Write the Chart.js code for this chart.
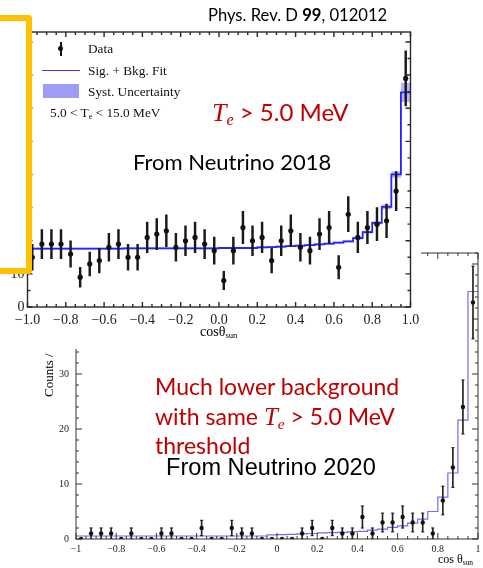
<!DOCTYPE html>
<html>
<head>
<meta charset="utf-8">
<script src="https://cdn.jsdelivr.net/npm/chart.js@4.4.1/dist/chart.umd.min.js"></script>
<style>
  html, body { margin: 0; padding: 0; background: #fff; }
  #page { position: relative; width: 483px; height: 568px; overflow: hidden; }
  canvas { position: absolute; left: 0; top: 0; }
  .t { position: absolute; white-space: nowrap; line-height: 1; }
  .calibri { font-family: Lato, "Open Sans", sans-serif; }
  .serif { font-family: "Liberation Serif", "DejaVu Serif", serif; }
  .red { color: #c00000; }
  .math { font-family: "Liberation Serif", serif; font-style: italic; }
  sub { font-size: 62%; vertical-align: -0.25em; line-height: 0; }
  .lg { font-size: 13.3px; color: #111; }
</style>
</head>
<body>
<div id="page">
  <canvas id="c2020" width="483" height="568" style="z-index:1"></canvas>

  <div class="t calibri red" style="left:155px; top:372px; font-size:23px; line-height:29.5px; z-index:2">
    Much lower background<br>with same <span class="math" style="font-size:25px">T<sub>e</sub></span> &gt; 5.0 MeV<br>threshold
  </div>
  <div class="t" style="left:166px; top:456px; font-size:23.6px; font-family:'Liberation Sans', Arial, sans-serif; z-index:2">From Neutrino 2020</div>
  <div class="t serif" style="left:42px; top:397px; font-size:13px; transform-origin:0 0; transform:rotate(-90deg); z-index:2">Counts /</div>
  <div class="t serif" style="left:438px; top:553px; font-size:12px; z-index:2">cos θ<sub>sun</sub></div>

  <canvas id="c2018" width="421" height="349" style="z-index:3"></canvas>

  <div class="t calibri" style="left:208px; top:7px; font-size:16.6px; z-index:4">Phys. Rev. D <b>99</b>, 012012</div>
  <div class="t calibri red" style="left:212px; top:100px; font-size:24px; z-index:4"><span class="math" style="font-size:26px">T<sub>e</sub></span> &gt; 5.0 MeV</div>
  <div class="t calibri" style="left:133px; top:151px; font-size:22px; z-index:4">From Neutrino 2018</div>
  <div class="t serif" style="left:200px; top:325px; font-size:14px; z-index:4">cosθ<sub>sun</sub></div>

  <!-- legend of the 2018 plot -->
  <div style="position:absolute; left:60px; top:42px; width:1.6px; height:14px; background:#111; z-index:4"></div>
  <div style="position:absolute; left:58.3px; top:46.3px; width:5px; height:5px; border-radius:50%; background:#111; z-index:4"></div>
  <div style="position:absolute; left:42px; top:69.5px; width:38px; height:1.5px; background:#3b3bff; z-index:4"></div>
  <div style="position:absolute; left:43px; top:84px; width:36px; height:14px; background:#9d9df7; z-index:4"></div>
  <div class="t serif lg" style="left:88px; top:41.5px; z-index:4">Data</div>
  <div class="t serif lg" style="left:88px; top:63.5px; z-index:4">Sig. + Bkg. Fit</div>
  <div class="t serif lg" style="left:88px; top:84.5px; z-index:4">Syst. Uncertainty</div>
  <div class="t serif lg" style="left:50px; top:106px; z-index:4">5.0 &lt; T<sub>e</sub> &lt; 15.0 MeV</div>

  <!-- yellow bracket -->
  <div style="position:absolute; left:-10px; top:15px; width:36px; height:247px; border:6px solid #ffc000; border-left:none; border-radius:0 4px 4px 0; z-index:5"></div>
</div>

<script>
// 40 bins of 0.05 in cos(theta_sun), from -1 to 1
var binEdges = []
for (var i = 0; i <= 40; i++) binEdges.push(Math.round((-1 + i * 0.05) * 1000) / 1000)
var binCenters = binEdges.slice(0, 40).map(function(e){ return Math.round((e + 0.025) * 1000) / 1000 })

// Neutrino 2018 (Phys. Rev. D 99, 012012)
var counts2018 = [15,19,19,19,16,9,13,14,18,19,15,15,21,22,23,18,20,21,19,17,8,17,24,20,21,14,20,23,18,17,22,24,12,28,21,24,25,26,35,69]
var err2018 = [3.9,4.4,4.4,4.4,4,3,3.6,3.7,4.2,4.4,3.9,3.9,4.6,4.7,4.8,4.2,4.5,4.6,4.4,4.1,2.8,4.1,4.9,4.5,4.6,3.7,4.5,4.8,4.2,4.1,4.7,4.9,3.5,5.3,4.6,4.9,5,5.1,5.9,8.3]
var fit2018 = [17.6,17.6,17.6,17.6,17.6,17.6,17.6,17.6,17.6,17.6,17.7,17.7,17.7,17.7,17.7,17.7,17.7,17.7,17.7,17.7,17.8,17.8,17.8,17.8,18.0,18.1,18.2,18.4,18.5,18.7,18.9,19.1,19.4,19.8,20.8,22.6,25.4,30.2,40.0,64.8]
var syst2018 = [0.3,0.3,0.3,0.3,0.3,0.3,0.3,0.3,0.3,0.3,0.3,0.3,0.3,0.3,0.3,0.3,0.3,0.3,0.3,0.3,0.3,0.3,0.3,0.3,0.3,0.3,0.3,0.3,0.3,0.3,0.3,0.3,0.3,0.3,0.4,0.4,0.5,0.7,1.0,2.9]
var xTicks2018 = [-1,-0.8,-0.6,-0.4,-0.2,0,0.2,0.4,0.6,0.8,1]
var xLabels2018 = ['\u22121.0','\u22120.8','\u22120.6','\u22120.4','\u22120.2','0.0','0.2','0.4','0.6','0.8','1.0']
var yTicks2018 = [0,10]
var yLabels2018 = ['0','10']

// Neutrino 2020
var counts2020 = [0,1,1,1,0,1,0,0,1,1,0,0,2,0,0,2,1,1,0,0,0,0,1,2,0,2,1,1,4,1,3,3,4,3,3,1,7,13,24,43]
var err2020 = [0,1,1,1,0,1,0,0,1,1,0,0,1.4,0,0,1.4,1,1,0,0,0,0,1,1.4,0,1.4,1,1,2,1,1.7,1.7,2,1.7,1.7,1,2.6,3.6,4.9,6.6]
var fit2020 = [0.55,0.55,0.55,0.55,0.55,0.55,0.55,0.55,0.55,0.55,0.55,0.55,0.55,0.55,0.55,0.55,0.55,0.55,0.55,0.75,0.8,0.85,0.95,1.0,1.1,1.15,1.2,1.3,1.4,1.6,1.8,2.1,2.4,2.9,3.6,5.0,7.6,12.0,21.6,45.0]
var xTicks2020 = [-1,-0.8,-0.6,-0.4,-0.2,0,0.2,0.4,0.6,0.8,1]
var xLabels2020 = ['\u22121','\u22120.8','\u22120.6','\u22120.4','\u22120.2','0','0.2','0.4','0.6','0.8','1']
var yTicks2020 = [0,10,20,30,40,50]
var yLabels2020 = ['0','10','20','30','40','50']

Chart.defaults.font.family = '"Liberation Serif", "DejaVu Serif", serif'
Chart.defaults.color = '#222'

function stepData(vals){
  // value of bin i is held from its left edge to the next one
  return binEdges.map(function(e, i){ return { x: e, y: vals[Math.min(i, vals.length - 1)] } })
}
function errBars(vals, errs){
  var out = []
  vals.forEach(function(v, i){ if (errs[i] > 0) out.push({ x: binCenters[i], y: [v - errs[i], v + errs[i]] }) })
  return out
}
function errCaps(vals, errs){
  var out = []
  vals.forEach(function(v, i){
    if (errs[i] > 0) {
      out.push({ x: binCenters[i], y: v - errs[i] })
      out.push({ x: binCenters[i], y: v + errs[i] })
    }
  })
  return out
}
function points(vals){
  return vals.map(function(v, i){ return { x: binCenters[i], y: v } })
}
function fixedAxis(size, horizontal){
  return function(s){
    if (horizontal) s.height = size; else s.width = size
    s.paddingLeft = 0; s.paddingRight = 0; s.paddingTop = 0; s.paddingBottom = 0
  }
}
function setTicks(values){
  return function(s){ s.ticks = values.map(function(v){ return { value: v } }) }
}

// closed frame with inward ROOT-style ticks on all four sides
var frameTicks = {
  id: 'frameTicks',
  afterDraw: function(chart, args, o){
    var ctx = chart.ctx, a = chart.chartArea, xs = chart.scales.x, ys = chart.scales.y
    ctx.save()
    ctx.strokeStyle = o.color
    ctx.lineWidth = o.width
    ctx.strokeRect(a.left, a.top, a.right - a.left, a.bottom - a.top)
    ctx.beginPath()
    var nx = Math.round((xs.max - xs.min) / o.xMinor), kx = Math.round(o.xMajor / o.xMinor)
    for (var i = 0; i <= nx; i++) {
      var px = xs.getPixelForValue(xs.min + i * o.xMinor)
      var len = i % kx === 0 ? o.majorLen : o.minorLen
      ctx.moveTo(px, a.bottom); ctx.lineTo(px, a.bottom - len)
      ctx.moveTo(px, a.top); ctx.lineTo(px, a.top + len)
    }
    var ny = Math.floor((ys.max - ys.min) / o.yMinor + 1e-6), ky = Math.round(o.yMajor / o.yMinor)
    for (var j = 0; j <= ny; j++) {
      var py = ys.getPixelForValue(ys.min + j * o.yMinor)
      var l2 = j % ky === 0 ? o.majorLen : o.minorLen
      ctx.moveTo(a.left, py); ctx.lineTo(a.left + l2, py)
      ctx.moveTo(a.right, py); ctx.lineTo(a.right - l2, py)
    }
    ctx.stroke()
    ctx.restore()
  }
}
var whiteBg = {
  id: 'whiteBg',
  beforeDraw: function(chart){
    var ctx = chart.ctx
    ctx.save()
    ctx.fillStyle = '#fff'
    ctx.fillRect(0, 0, chart.width, chart.height)
    ctx.restore()
  }
}

// ---- bottom plot: Neutrino 2020 ----
new Chart(document.getElementById('c2020'), {
  type: 'scatter',
  data: {
    datasets: [
      { type: 'line', data: stepData(fit2020), stepped: true, borderColor: '#6f6ff2', borderWidth: 1.2, pointRadius: 0, fill: false, order: 4 },
      { type: 'bar', data: errBars(counts2020, err2020), backgroundColor: '#222', barThickness: 1, grouped: false, order: 3 },
      { type: 'scatter', data: errCaps(counts2020, err2020), pointStyle: 'line', pointRadius: 1.6, borderColor: '#222', borderWidth: 1, order: 2 },
      { type: 'scatter', data: points(counts2020), pointRadius: 2.2, backgroundColor: '#111', borderWidth: 0, order: 1 }
    ]
  },
  options: {
    responsive: false,
    animation: false,
    events: [],
    layout: { padding: { left: 0, right: 4, top: 253, bottom: 0 } },
    plugins: {
      legend: { display: false },
      tooltip: { enabled: false },
      frameTicks: { color: '#333', width: 1, xMajor: 0.2, xMinor: 0.05, yMajor: 10, yMinor: 2, majorLen: 6, minorLen: 3 }
    },
    scales: {
      x: {
        type: 'linear', min: -1, max: 1, offset: false,
        grid: { display: false, drawTicks: false, offset: false }, border: { display: false },
        afterBuildTicks: setTicks(xTicks2020),
        afterFit: fixedAxis(29, true),
        ticks: { font: { size: 10 }, padding: 4, maxRotation: 0, autoSkip: false,
          callback: function(v, i){ return xLabels2020[i] } }
      },
      y: {
        min: 0, max: 52,
        grid: { display: false, drawTicks: false }, border: { display: false },
        afterBuildTicks: setTicks(yTicks2020),
        afterFit: fixedAxis(76, false),
        ticks: { font: { size: 10 }, padding: 7,
          callback: function(v, i){ return yLabels2020[i] } }
      }
    }
  },
  plugins: [frameTicks]
})

// ---- top plot: Neutrino 2018 ----
new Chart(document.getElementById('c2018'), {
  type: 'scatter',
  data: {
    datasets: [
      { type: 'line', data: stepData(fit2018.map(function(v, i){ return v - syst2018[i] })), stepped: true, borderWidth: 0, pointRadius: 0, fill: false, order: 6 },
      { type: 'line', data: stepData(fit2018.map(function(v, i){ return v + syst2018[i] })), stepped: true, borderWidth: 0, pointRadius: 0, fill: '-1', backgroundColor: 'rgba(120,120,245,0.55)', order: 5 },
      { type: 'line', data: stepData(fit2018), stepped: true, borderColor: '#2424ff', borderWidth: 1.8, pointRadius: 0, fill: false, order: 4 },
      { type: 'bar', data: errBars(counts2018, err2018), backgroundColor: '#1a1a1a', barThickness: 1.8, grouped: false, order: 3 },
      { type: 'scatter', data: points(counts2018), pointRadius: 2.6, backgroundColor: '#111', borderWidth: 0, order: 1 }
    ]
  },
  options: {
    responsive: false,
    animation: false,
    events: [],
    layout: { padding: { left: 0, right: 10.5, top: 32, bottom: 0 } },
    plugins: {
      legend: { display: false },
      tooltip: { enabled: false },
      frameTicks: { color: '#2a2a2a', width: 1.4, xMajor: 0.2, xMinor: 0.05, yMajor: 10, yMinor: 5, majorLen: 5, minorLen: 3 }
    },
    scales: {
      x: {
        type: 'linear', min: -1, max: 1, offset: false,
        grid: { display: false, drawTicks: false, offset: false }, border: { display: false },
        afterBuildTicks: setTicks(xTicks2018),
        afterFit: fixedAxis(42, true),
        ticks: { font: { size: 14 }, padding: 5, maxRotation: 0, autoSkip: false,
          callback: function(v, i){ return xLabels2018[i] } }
      },
      y: {
        min: 0, max: 83,
        grid: { display: false, drawTicks: false }, border: { display: false },
        afterBuildTicks: setTicks(yTicks2018),
        afterFit: fixedAxis(27.5, false),
        ticks: { font: { size: 14 }, padding: 3,
          callback: function(v, i){ return yLabels2018[i] } }
      }
    }
  },
  plugins: [whiteBg, frameTicks]
})
</script>
</body>
</html>
